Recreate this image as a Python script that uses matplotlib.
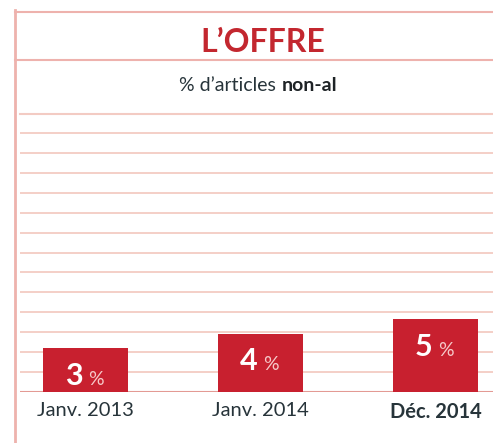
import numpy as np
import matplotlib.pyplot as plt
from matplotlib.lines import Line2D

categories = ['Janv. 2013', 'Janv. 2014', 'Déc. 2014']
values = [3, 4, 5]
title = 'L’OFFRE'
subtitle = '% d’articles'
subtitle_bold = 'non-al'

red = '#c8202f'
pink = '#f3cbc3'
frame = '#eeb2ad'
ink = '#27343a'

plt.rcParams['font.family'] = ['Lato', 'DejaVu Sans']

W, H = 493, 443
fig = plt.figure(figsize=(W / 100, H / 100), dpi=100)


def fx(px):
    return px / W


def fy(py):
    return 1 - py / H


# bars area
ax = fig.add_axes([fx(20), fy(392), fx(473), 279 / H])
x = np.arange(len(values))
ax.bar(x, values, width=0.486, color=red, zorder=3)
ytop = 19.1
ax.set_xlim(-0.374, 2.329)
ax.set_ylim(0, ytop)
ax.set_yticks(np.linspace(0, ytop, 15))
ax.yaxis.grid(True, color=pink, lw=1.3)
ax.set_axisbelow(True)
ax.tick_params(axis='y', length=0, labelleft=False)
ax.tick_params(axis='x', length=0, pad=7, labelsize=14.5, labelcolor=ink)
for s in ax.spines.values():
    s.set_visible(False)
ax.axhline(0, color='#e39a94', lw=1.5, zorder=2)
ax.set_xticks(x, categories)
ax.get_xticklabels()[-1].set_fontweight('bold')

for xi, v in zip(x, values):
    ax.annotate(str(v), (xi, v), xytext=(-2, -26.5), textcoords='offset points',
                ha='right', va='baseline', color='white', fontsize=22, fontweight='bold')
    ax.annotate('%', (xi, v), xytext=(2, -26.5), textcoords='offset points',
                ha='left', va='baseline', color='#f6c9c9', fontsize=14)

# frame lines
fig.add_artist(Line2D([fx(15), fx(15)], [fy(10), 0], color=frame, lw=2))
fig.add_artist(Line2D([fx(15), 1], [fy(12), fy(12)], color=frame, lw=1.5))
fig.add_artist(Line2D([fx(15), 1], [fy(60), fy(60)], color=frame, lw=1.5))
fig.add_artist(Line2D([fx(20), 1], [fy(114), fy(114)], color=pink, lw=1.5))

fig.text(fx(263), fy(52), title, ha='center', va='baseline', fontsize=23,
         fontweight='bold', color='#c3272f')
t1 = fig.text(fx(276), fy(91), subtitle, ha='right', va='baseline',
              fontsize=14, color=ink)
ax.annotate(subtitle_bold, xy=(1, 0), xycoords=t1, xytext=(4, 0),
            textcoords='offset points', ha='left', va='bottom',
            fontsize=14, fontweight='bold', color='#1e2326')

fig.savefig('out.png', dpi=100, facecolor='white')
